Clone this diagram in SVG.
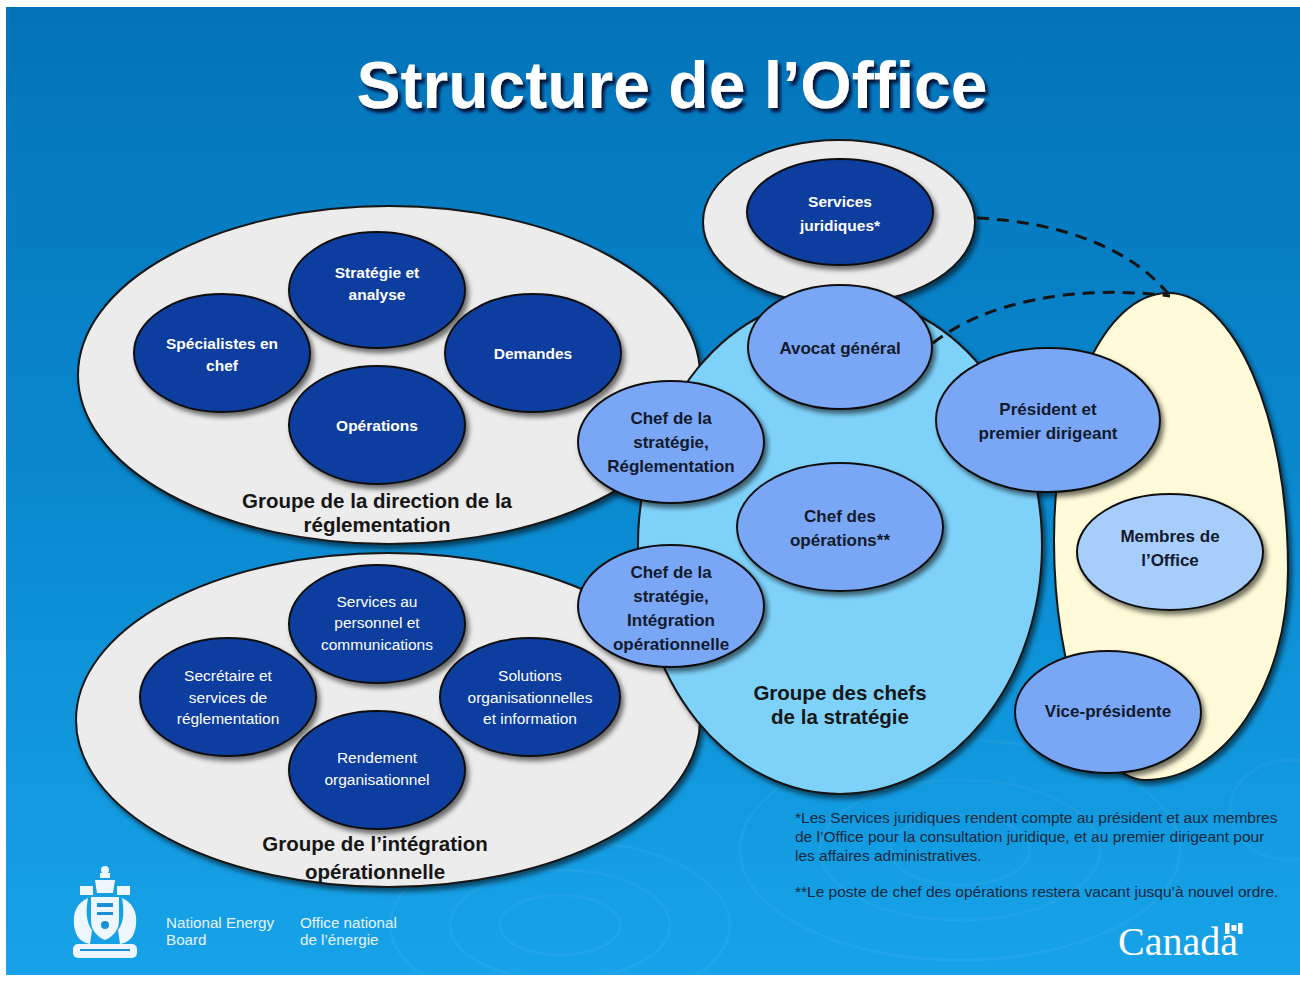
<svg xmlns="http://www.w3.org/2000/svg" width="1300" height="981" viewBox="0 0 1300 981">
<defs>
<linearGradient id="bg" x1="0" y1="0" x2="0" y2="1">
<stop offset="0" stop-color="#0373b9"/>
<stop offset="0.5" stop-color="#0a89cf"/>
<stop offset="1" stop-color="#17a3e9"/>
</linearGradient>
<filter id="sh" x="-15%" y="-15%" width="135%" height="135%">
<feDropShadow dx="3" dy="4" stdDeviation="2.5" flood-color="#000" flood-opacity="0.55"/>
</filter>
<filter id="tsh" x="-5%" y="-20%" width="110%" height="150%">
<feDropShadow dx="3" dy="4" stdDeviation="1.5" flood-color="#001030" flood-opacity="0.95"/>
</filter>
<style>
.grp{fill:#ececec;stroke:#161616;stroke-width:2}
.dk{fill:#0b3e9e;stroke:#101010;stroke-width:2}
.pw{fill:#79a7f6;stroke:#101010;stroke-width:2}
.lt{fill:#a7cdfa;stroke:#101010;stroke-width:2}
.tw{font-family:"Liberation Sans",Arial,sans-serif;font-size:15.5px;fill:#ffffff;text-anchor:middle}
.twb{font-family:"Liberation Sans",Arial,sans-serif;font-size:15.5px;font-weight:bold;fill:#ffffff;text-anchor:middle}
.td{font-family:"Liberation Sans",Arial,sans-serif;font-size:17px;font-weight:bold;fill:#121a2c;text-anchor:middle}
.tg{font-family:"Liberation Sans",Arial,sans-serif;font-size:20.5px;font-weight:bold;fill:#161616;text-anchor:middle}
.fn{font-family:"Liberation Sans",Arial,sans-serif;font-size:15.5px;fill:#16283c}
.lg{font-family:"Liberation Sans",Arial,sans-serif;font-size:15.2px;fill:#e6f3ff}
.dash{fill:none;stroke:#141414;stroke-width:3;stroke-dasharray:12 8}
.rip{fill:none;stroke:#ffffff;stroke-opacity:0.045;stroke-width:3}
</style>
</defs>

<rect x="0" y="0" width="1300" height="981" fill="#ffffff"/>
<rect x="6" y="7" width="1294" height="968" fill="url(#bg)"/>

<g id="ripples">
<ellipse class="rip" cx="560" cy="925" rx="60" ry="30"/>
<ellipse class="rip" cx="560" cy="925" rx="110" ry="55"/>
<ellipse class="rip" cx="560" cy="925" rx="170" ry="85"/>
<ellipse class="rip" cx="960" cy="850" rx="70" ry="35"/>
<ellipse class="rip" cx="960" cy="850" rx="140" ry="70"/>
<ellipse class="rip" cx="960" cy="850" rx="220" ry="110"/>
<ellipse class="rip" cx="1290" cy="810" rx="60" ry="50"/>
</g>

<text x="672" y="108" text-anchor="middle" font-family="Liberation Sans, Arial, sans-serif" font-size="66" font-weight="bold" fill="#ffffff" filter="url(#tsh)">Structure de l’Office</text>

<g id="group-reglementation">
<ellipse class="grp" cx="389" cy="375" rx="311" ry="169" filter="url(#sh)"/>
<text class="tg" x="377" y="508">Groupe de la direction de la</text>
<text class="tg" x="377" y="532">réglementation</text>
</g>
<g id="n-strategie-analyse">
<ellipse class="dk" cx="377" cy="290" rx="88" ry="58" filter="url(#sh)"/>
<text class="twb" x="377" y="278">Stratégie et</text>
<text class="twb" x="377" y="300">analyse</text>
</g>
<g id="n-specialistes">
<ellipse class="dk" cx="222" cy="353" rx="88" ry="59" filter="url(#sh)"/>
<text class="twb" x="222" y="349">Spécialistes en</text>
<text class="twb" x="222" y="371">chef</text>
</g>
<g id="n-demandes">
<ellipse class="dk" cx="533" cy="353" rx="88" ry="59" filter="url(#sh)"/>
<text class="twb" x="533" y="359">Demandes</text>
</g>
<g id="n-operations">
<ellipse class="dk" cx="377" cy="425" rx="88" ry="59" filter="url(#sh)"/>
<text class="twb" x="377" y="431">Opérations</text>
</g>

<g id="group-integration">
<ellipse class="grp" cx="388" cy="720" rx="312" ry="167" filter="url(#sh)"/>
<text class="tg" x="375" y="851">Groupe de l’intégration</text>
<text class="tg" x="375" y="879">opérationnelle</text>
</g>
<g id="n-services-personnel">
<ellipse class="dk" cx="377" cy="624" rx="88" ry="59" filter="url(#sh)"/>
<text class="tw" x="377" y="607">Services au</text>
<text class="tw" x="377" y="628">personnel et</text>
<text class="tw" x="377" y="650">communications</text>
</g>
<g id="n-secretaire">
<ellipse class="dk" cx="228" cy="697" rx="88" ry="59" filter="url(#sh)"/>
<text class="tw" x="228" y="681">Secrétaire et</text>
<text class="tw" x="228" y="703">services de</text>
<text class="tw" x="228" y="724">réglementation</text>
</g>
<g id="n-solutions">
<ellipse class="dk" cx="530" cy="697" rx="90" ry="59" filter="url(#sh)"/>
<text class="tw" x="530" y="681">Solutions</text>
<text class="tw" x="530" y="703">organisationnelles</text>
<text class="tw" x="530" y="724">et information</text>
</g>
<g id="n-rendement">
<ellipse class="dk" cx="377" cy="770" rx="88" ry="59" filter="url(#sh)"/>
<text class="tw" x="377" y="763">Rendement</text>
<text class="tw" x="377" y="785">organisationnel</text>
</g>

<g id="group-services-juridiques">
<ellipse class="grp" cx="839" cy="222" rx="136" ry="82" filter="url(#sh)"/>
</g>
<g id="n-services-juridiques">
<ellipse class="dk" cx="840" cy="212" rx="93" ry="53" filter="url(#sh)"/>
<text class="twb" x="840" y="207" font-size="16.5">Services</text>
<text class="twb" x="840" y="231" font-size="16.5">juridiques*</text>
</g>

<g id="group-office">
<path d="M1168,293 C1234,293 1288,417 1288,570 C1288,686 1224,780 1145,780 C1095,780 1054,673 1054,540 C1054,403 1105,293 1168,293 Z" fill="#fffbd8" stroke="#141414" stroke-width="2" filter="url(#sh)"/>
</g>

<g id="group-chefs">
<ellipse cx="840" cy="545" rx="202" ry="249" fill="#7ed2fa" stroke="#141414" stroke-width="2" filter="url(#sh)"/>
<text class="tg" x="840" y="700">Groupe des chefs</text>
<text class="tg" x="840" y="724">de la stratégie</text>
</g>

<g id="connectors">
<path class="dash" d="M977,218 C1060,222 1132,248 1170,296"/>
<path class="dash" d="M933,343 C985,302 1075,284 1170,296"/>
</g>

<g id="n-avocat">
<ellipse class="pw" cx="840" cy="347" rx="92" ry="62" filter="url(#sh)"/>
<text class="td" x="840" y="354">Avocat général</text>
</g>
<g id="n-chef-reglementation">
<ellipse class="pw" cx="671" cy="442" rx="93" ry="61" filter="url(#sh)"/>
<text class="td" x="671" y="424">Chef de la</text>
<text class="td" x="671" y="448">stratégie,</text>
<text class="td" x="671" y="472">Réglementation</text>
</g>
<g id="n-chef-operations">
<ellipse class="pw" cx="840" cy="527" rx="103" ry="64" filter="url(#sh)"/>
<text class="td" x="840" y="522">Chef des</text>
<text class="td" x="840" y="546">opérations**</text>
</g>
<g id="n-chef-integration">
<ellipse class="pw" cx="671" cy="606" rx="93" ry="61" filter="url(#sh)"/>
<text class="td" x="671" y="578">Chef de la</text>
<text class="td" x="671" y="602">stratégie,</text>
<text class="td" x="671" y="626">Intégration</text>
<text class="td" x="671" y="650">opérationnelle</text>
</g>
<g id="n-president">
<ellipse class="pw" cx="1048" cy="420" rx="112" ry="72" filter="url(#sh)"/>
<text class="td" x="1048" y="415">Président et</text>
<text class="td" x="1048" y="439">premier dirigeant</text>
</g>
<g id="n-membres">
<ellipse class="lt" cx="1170" cy="552" rx="93" ry="58" filter="url(#sh)"/>
<text class="td" x="1170" y="542">Membres de</text>
<text class="td" x="1170" y="566">l’Office</text>
</g>
<g id="n-vice-presidente">
<ellipse class="pw" cx="1108" cy="712" rx="93" ry="61" filter="url(#sh)"/>
<text class="td" x="1108" y="717">Vice-présidente</text>
</g>

<g id="footnotes">
<text class="fn" x="795" y="823">*Les Services juridiques rendent compte au président et aux membres</text>
<text class="fn" x="795" y="842">de l’Office pour la consultation juridique, et au premier dirigeant pour</text>
<text class="fn" x="795" y="861">les affaires administratives.</text>
<text class="fn" x="795" y="897">**Le poste de chef des opérations restera vacant jusqu’à nouvel ordre.</text>
</g>

<g id="crest" fill="#eef6ff">
<circle cx="105" cy="870" r="4"/>
<rect x="100" y="873" width="10" height="5"/>
<path d="M95,880 L115,880 L113,893 L97,893 Z"/>
<rect x="80" y="886" width="13" height="9"/>
<rect x="117" y="886" width="13" height="9"/>
<path d="M91,897 L119,897 L119,920 Q119,934 105,940 Q91,934 91,920 Z"/>
<path d="M88,898 Q72,905 74,925 Q76,942 90,944 L92,930 Q84,920 88,898 Z"/>
<path d="M122,898 Q138,905 136,925 Q134,942 120,944 L118,930 Q126,920 122,898 Z"/>
<rect x="73" y="944" width="64" height="14" rx="5"/>
<g fill="#1a8fd6">
<rect x="97" y="903" width="16" height="4"/>
<rect x="97" y="912" width="16" height="3"/>
<circle cx="105" cy="925" r="4"/>
<rect x="80" y="949" width="50" height="2"/>
</g>
</g>

<g id="nrj-logo">
<text class="lg" x="166" y="928">National Energy</text>
<text class="lg" x="166" y="945">Board</text>
<text class="lg" x="300" y="928">Office national</text>
<text class="lg" x="300" y="945">de l’énergie</text>
</g>

<g id="canada-wordmark" fill="#ffffff">
<text x="1118" y="955" font-family="Liberation Serif, 'Times New Roman', serif" font-size="40" fill="#ffffff">Canada</text>
<rect x="1225" y="923" width="4.5" height="11"/>
<rect x="1238" y="923" width="4.5" height="11"/>
<rect x="1231.5" y="925" width="5" height="6"/>
</g>
</svg>
